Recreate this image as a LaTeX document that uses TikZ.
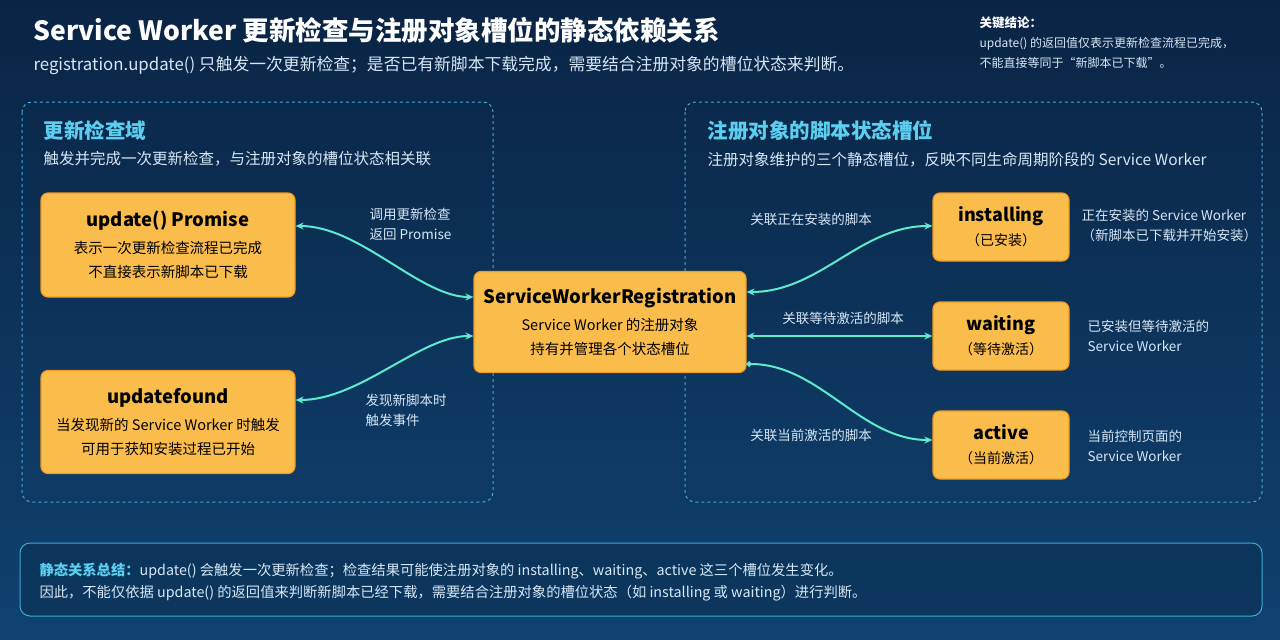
\documentclass[tikz,border=0pt]{standalone}
\usepackage{fontspec}
\setmainfont{Noto Sans CJK SC}
\usetikzlibrary{arrows.meta}
\definecolor{bgA}{HTML}{0A2444}
\definecolor{bgB}{HTML}{0F4270}
\definecolor{orng}{HTML}{FABD4C}
\definecolor{orngB}{HTML}{F29A1E}
\definecolor{cyanT}{HTML}{5CCFF0}
\definecolor{dashC}{HTML}{3FA9D8}
\definecolor{arr}{HTML}{5EEACB}
\definecolor{txtL}{HTML}{D6E6F5}
\tikzset{
 box/.style={draw=orngB,line width=1.2pt,fill=orng,rounded corners=7pt,inner sep=0pt,align=center,font=\fontsize{14.5}{24}\selectfont},
 sbox/.style={box,minimum width=136pt,minimum height=68pt,font=\fontsize{14}{24}\selectfont},
 region/.style={draw=dashC,dashed,line width=1pt,rounded corners=10pt},
 lab/.style={text=txtL,font=\fontsize{13.5}{20}\selectfont,align=left,anchor=west},
 con/.style={arr,line width=2pt,{Stealth[length=8pt,width=7pt]}-{Stealth[length=8pt,width=7pt]}},
}
\newcommand\bt[1]{{\bfseries\fontsize{18.5}{22}\selectfont #1}}
\begin{document}
\begin{tikzpicture}[x=1pt,y=-1pt]
\shade[top color=bgA,bottom color=bgB] (0,0) rectangle (1280,640);
\useasboundingbox (0,0) rectangle (1280,640);
% title
\node[anchor=west,text=white,font=\bfseries\fontsize{26.5}{30}\selectfont] (title) at (30,30) {Service Worker 更新检查与注册对象槽位的静态依赖关系};
\node[anchor=west,text=txtL,font=\fontsize{16.8}{20}\selectfont] (sub) at (30,65) {registration.update() 只触发一次更新检查；是否已有新脚本下载完成，需要结合注册对象的槽位状态来判断。};
\node[anchor=north west,text=white,font=\bfseries\fontsize{12.5}{15}\selectfont] (kt) at (976,13) {关键结论：};
\node[anchor=north west,text=txtL,font=\fontsize{12}{20}\selectfont,align=left] (kb) at (976,34) {update() 的返回值仅表示更新检查流程已完成，\\不能直接等同于“新脚本已下载”。};
% regions
\draw[region] (22,102) rectangle (493,502);
\draw[region] (685,102) rectangle (1262,502);
\node[anchor=west,text=cyanT,font=\bfseries\fontsize{20.5}{24}\selectfont] (lt) at (40,131) {更新检查域};
\node[anchor=west,text=txtL,font=\fontsize{15.5}{18}\selectfont] (ls) at (40,159) {触发并完成一次更新检查，与注册对象的槽位状态相关联};
\node[anchor=west,text=cyanT,font=\bfseries\fontsize{20.5}{24}\selectfont] (rt) at (704,131) {注册对象的脚本状态槽位};
\node[anchor=west,text=txtL,font=\fontsize{15.5}{18}\selectfont] (rs) at (704,160) {注册对象维护的三个静态槽位，反映不同生命周期阶段的 Service Worker};
% nodes
\node[box,minimum width=254pt,minimum height=104pt] (up) at (168,245) {\bt{update() Promise}\\[3pt]表示一次更新检查流程已完成\\不直接表示新脚本已下载};
\node[box,minimum width=254pt,minimum height=103pt] (uf) at (168,422) {\bt{updatefound}\\[3pt]当发现新的 Service Worker 时触发\\可用于获知安装过程已开始};
\node[box,minimum width=272pt,minimum height=101pt] (reg) at (610,322) {\bt{ServiceWorkerRegistration}\\[3pt]Service Worker 的注册对象\\持有并管理各个状态槽位};
\node[sbox] (ins) at (1001,227) {{\bfseries\fontsize{18}{21}\selectfont installing}\\（已安装）};
\node[sbox] (wai) at (1001,336) {{\bfseries\fontsize{18}{21}\selectfont waiting}\\（等待激活）};
\node[sbox] (act) at (1001,445) {{\bfseries\fontsize{18}{21}\selectfont active}\\（当前激活）};
% side labels
\node[lab] (insd) at (1078,225) {正在安装的 Service Worker\\（新脚本已下载并开始安装）};
\node[lab] (waid) at (1084,336) {已安装但等待激活的\\Service Worker};
\node[lab] (actd) at (1084,446) {当前控制页面的\\Service Worker};
% connectors
\draw[con] (up.east|-0,226) .. controls (360,226) and (420,297) .. (reg.west|-0,297);
\draw[con] (uf.east|-0,400) .. controls (360,400) and (420,336) .. (reg.west|-0,336);
\draw[con] (reg.east|-0,292) .. controls (820,292) and (860,226) .. (ins.west|-0,226);
\draw[con] (reg.east|-0,336) -- (wai.west);
\draw[arr,line width=2pt,{Circle[length=5pt]}-{Stealth[length=8pt,width=7pt]}] (reg.east|-0,364) .. controls (820,364) and (860,440) .. (act.west|-0,440);
\node[lab] (c1) at (366,224) {调用更新检查\\返回 Promise};
\node[lab] (c2) at (362,410) {发现新脚本时\\触发事件};
\node[lab,anchor=center] (c3) at (811,219) {关联正在安装的脚本};
\node[lab,anchor=center] (c4) at (843,318) {关联等待激活的脚本};
\node[lab,anchor=center] (c5) at (811,435) {关联当前激活的脚本};
% bottom
\draw[draw=dashC,line width=1pt,rounded corners=10pt,fill=bgB!70!black,fill opacity=0.5] (20,543) rectangle (1262,616);
\node[anchor=west,text=txtL,font=\fontsize{14.3}{17}\selectfont] (b1) at (36,571) {{\bfseries\color{cyanT}静态关系总结：}update() 会触发一次更新检查；检查结果可能使注册对象的 installing、waiting、active 这三个槽位发生变化。};
\node[anchor=west,text=txtL,font=\fontsize{14.3}{17}\selectfont] (b2) at (36,593) {因此，不能仅依据 update() 的返回值来判断新脚本已经下载，需要结合注册对象的槽位状态（如 installing 或 waiting）进行判断。};
\end{tikzpicture}
\end{document}
